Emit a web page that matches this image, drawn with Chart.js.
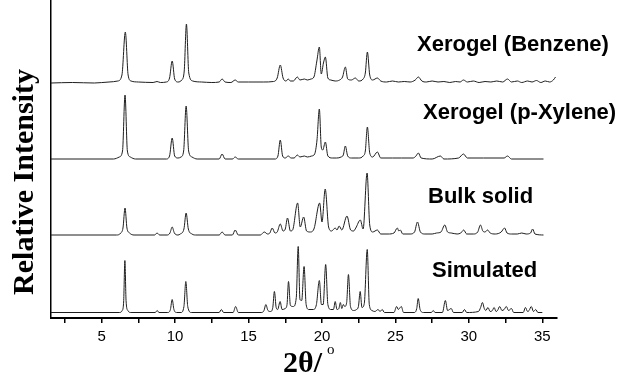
<!DOCTYPE html>
<html>
<head>
<meta charset="utf-8">
<script src="https://cdn.jsdelivr.net/npm/chart.js@4.4.1/dist/chart.umd.min.js"></script>
<style>
  html, body { margin: 0; padding: 0; background: #fff; }
  #xrd { display: block; }
</style>
</head>
<body>
<canvas id="xrd" width="622" height="377"></canvas>
<script>
// [2theta, intensity above the trace's own baseline]
const simulated = [
  [1.55,0],[6.2,0],[6.4,2],[6.5,12],[6.58,52],[6.66,12],[6.78,2],[7.0,0],
  [8.65,0],[8.78,2],[8.9,0],
  [9.5,0],[9.68,3],[9.8,13],[9.92,3],[10.1,0],
  [10.4,0],[10.6,6],[10.73,31],[10.86,6],[11.1,0],
  [13.0,0],[13.15,3],[13.3,0],
  [13.95,0],[14.12,6],[14.3,0],
  [15.9,0],[16.05,2],[16.18,8],[16.32,2],[16.5,1],[16.65,5],[16.76,21],[16.88,5],[16.98,3],
  [17.15,11],[17.28,3],[17.5,4],[17.62,8],[17.72,31],[17.85,7],[18.05,6],[18.25,15],[18.38,66],
  [18.5,13],[18.62,12],[18.78,46],[18.92,8],[19.1,3],[19.4,3],[19.62,8],[19.82,32],[19.96,8],
  [20.08,8],[20.25,48],[20.4,8],[20.6,3],[20.78,3],[20.9,11],[21.02,3],[21.15,4],[21.25,10],
  [21.35,4],[21.45,8],[21.55,6],[21.68,10],[21.8,38],[21.94,6],[22.15,2],[22.35,3],[22.48,6],
  [22.6,21],[22.72,5],[22.88,9],[23.08,63],[23.22,8],[23.4,2],[23.6,1],[23.82,3],[23.95,1],
  [24.1,3],[24.25,0],
  [24.9,0],[25.08,6],[25.2,3],[25.27,4],[25.4,6],[25.55,0],
  [26.3,0],[26.45,4],[26.55,14],[26.68,3],[26.9,0],
  [27.45,0],[27.57,2],[27.7,0],
  [28.2,0],[28.4,12],[28.55,2],[28.8,4],[28.95,0],
  [29.55,0],[29.7,3],[29.85,0],
  [30.65,1],[30.8,5],[30.92,10],[31.05,4],[31.15,2],[31.3,5],[31.45,1],[31.6,2],[31.72,5],
  [31.85,1],[31.95,2],[32.1,6],[32.25,2],[32.4,3],[32.55,6],[32.7,2],[32.9,4],[33.05,0],
  [33.7,0],[33.85,5],[34.0,1],[34.1,2],[34.25,6],[34.4,1],[34.55,3],[34.7,0],[35.0,0]
];

const bulkSolid = [
  [1.55,0],[6.0,0],[6.3,2],[6.45,7],[6.59,27],[6.72,7],[6.9,2],[7.2,0],
  [8.6,0],[8.77,2],[8.95,0],
  [9.45,0],[9.65,2],[9.8,8],[9.95,2],[10.2,0],
  [10.35,1],[10.6,6],[10.75,22],[10.9,6],[11.15,1],[11.4,0],
  [13.0,0],[13.2,3],[13.4,0],
  [13.9,0],[14.09,5],[14.3,0],
  [15.8,0],[16.07,3],[16.3,1],[16.45,2],[16.61,7],[16.8,2],[16.95,3],[17.16,11],[17.35,4],
  [17.5,6],[17.65,17],[17.85,4],[18.0,5],[18.34,32],[18.52,8],[18.75,18],[18.95,4],[19.2,3],
  [19.45,6],[19.84,32],[20.0,13],[20.22,46],[20.45,8],[20.65,4],[20.9,7],[21.02,5],[21.17,9],
  [21.35,5],[21.7,19],[21.95,5],[22.15,4],[22.3,7],[22.61,15],[22.8,6],[23.07,62],[23.25,10],
  [23.45,3],[23.77,5],[24.0,1],[24.5,1],[24.9,2],[25.13,7],[25.23,4],[25.33,5],[25.5,1],
  [26.0,1],[26.3,3],[26.5,13],[26.7,3],[27.0,1],[27.5,1],[27.8,2],[28.1,3],[28.36,10],
  [28.55,3],[28.8,2],[29.2,1],[29.45,2],[29.65,5],[29.85,1],[30.3,1],[30.6,3],[30.79,10],
  [30.95,4],[31.1,3],[31.27,5],[31.45,2],[31.8,1],[32.2,3],[32.43,7],[32.6,2],[32.9,1],
  [33.3,1],[33.6,2],[33.9,1],[34.2,2],[34.34,6],[34.5,1],[35.08,0]
];

const xerogelXylene = [
  [1.55,0],[5.8,0],[6.2,2],[6.42,8],[6.59,64],[6.75,8],[6.95,2],[7.3,0],
  [9.4,0],[9.62,3],[9.8,21],[9.97,3],[10.2,1],[10.4,2],[10.58,8],[10.75,53],[10.92,8],
  [11.15,2],[11.5,0],
  [13.0,0],[13.2,5],[13.4,0],[13.9,0],[14.09,2],[14.3,0],
  [16.8,0],[17.0,3],[17.16,19],[17.32,3],[17.5,1],[17.7,3],[17.9,1],[18.1,1],[18.32,4],
  [18.5,2],[18.8,3],[19.0,2],[19.3,3],[19.5,5],[19.66,19],[19.82,50],[19.95,12],[20.05,9],
  [20.23,17],[20.4,3],[20.7,1],[21.0,1],[21.3,2],[21.45,4],[21.59,13],[21.75,3],[22.0,1],
  [22.5,1],[22.8,3],[22.95,8],[23.09,32],[23.25,6],[23.45,2],[23.77,7],[24.0,1],[24.8,1],
  [25.4,1],[26.2,1],[26.4,3],[26.56,6],[26.75,1],[27.5,0],[28.06,3],[28.3,0],[29.3,1],
  [29.63,5],[29.9,1],[31.0,1],[32.4,1],[32.63,3],[32.9,0],[35.08,0]
];

const xerogelBenzene = [
  [1.55,0],[3.0,0.5],[4.5,0],[5.5,1],[6.1,2],[6.38,8],[6.61,51],[6.8,8],[7.0,2],[7.5,1],
  [8.5,0.5],[8.77,1.5],[9.0,0.5],[9.4,1],[9.62,5],[9.8,22],[9.97,4],[10.2,1],[10.45,3],
  [10.62,12],[10.77,59],[10.93,10],[11.2,2],[11.8,1],[12.5,0.5],[13.0,1],[13.2,4],[13.4,1],
  [13.8,0.5],[14.09,3],[14.3,1],[15.0,1],[16.0,1],[16.7,1.5],[16.95,5],[17.16,18],[17.35,5],
  [17.55,2],[17.7,4],[17.85,2],[18.05,2],[18.32,6],[18.5,3],[18.8,4],[19.0,3],[19.25,4],
  [19.45,6],[19.65,22],[19.82,36],[19.95,9],[20.1,20],[20.23,26],[20.4,5],[20.6,3],[20.9,2],
  [21.2,3],[21.4,6],[21.59,16],[21.75,4],[22.0,3],[22.27,5],[22.5,2],[22.8,4],[22.95,10],
  [23.09,31],[23.25,8],[23.45,3],[23.77,5],[24.0,2],[24.4,1],[24.8,2],[25.2,1],[25.6,1.5],
  [26.0,1],[26.35,3],[26.56,6],[26.8,2],[27.1,1],[27.5,2],[27.9,1],[28.3,1.5],[28.7,0.5],
  [29.1,1.5],[29.4,1],[29.63,3],[29.9,1],[30.3,2],[30.7,0.5],[31.1,1.5],[31.5,1],[31.9,2],
  [32.3,1],[32.63,4],[32.9,1],[33.3,2],[33.6,0.5],[34.0,2],[34.3,1],[34.6,2.5],[34.9,0.5],
  [35.2,2],[35.5,1],[35.75,3],[35.9,6]
];

const traces = [simulated, bulkSolid, xerogelXylene, xerogelBenzene];
const traceLabels = ['Simulated', 'Bulk solid', 'Xerogel (p-Xylene)', 'Xerogel (Benzene)'];
const traceOffsets = [5.5, 83, 159, 235];
const xTickLabels = [5, 10, 15, 20, 25, 30, 35];

// where each trace name sits (canvas px: left, baseline)
const labelPos = [[432, 277], [428, 203], [423, 119], [417, 51]];

const textPlugin = {
  id: 'xrdText',
  afterDraw(chart) {
    const c = chart.ctx;
    c.save();
    c.fillStyle = '#000';
    c.textAlign = 'left';
    c.textBaseline = 'alphabetic';
    c.font = 'bold 22px "Liberation Sans", Arial, sans-serif';
    traceLabels.forEach((t, i) => c.fillText(t, labelPos[i][0], labelPos[i][1]));

    // axis titles
    c.font = 'bold 30px "Liberation Serif", "Times New Roman", serif';
    c.fillText('2θ/', 283, 372);
    c.font = '15px "Liberation Serif", "Times New Roman", serif';
    c.fillText('o', 327, 354);

    c.translate(33, 182);
    c.rotate(-Math.PI / 2);
    c.textAlign = 'center';
    c.font = 'bold 30px "Liberation Serif", "Times New Roman", serif';
    c.fillText('Relative Intensity', 0, 0);
    c.restore();
  }
};

const ctx = document.getElementById('xrd').getContext('2d');
const chart = new Chart(ctx, {
  type: 'line',
  data: {
    datasets: traces.map((tr, i) => ({
      label: traceLabels[i],
      data: tr.map(p => ({ x: p[0], y: p[1] + traceOffsets[i] })),
      borderColor: '#1e1e1e',
      borderWidth: 1,
      pointRadius: 0,
      fill: false,
      cubicInterpolationMode: 'monotone'
    }))
  },
  options: {
    responsive: false,
    animation: false,
    devicePixelRatio: 1,
    layout: { padding: { left: 0, right: 65, top: 0, bottom: 0 } },
    plugins: { legend: { display: false }, tooltip: { enabled: false } },
    scales: {
      x: {
        type: 'linear',
        min: 1.55,
        max: 36,
        afterFit: s => { s.height = 59; },
        border: { display: true, color: '#000', width: 2 },
        grid: { display: true, drawOnChartArea: false, drawTicks: true, tickLength: 5, color: '#000', lineWidth: 1.5 },
        ticks: {
          stepSize: 2.5,
          includeBounds: false,
          autoSkip: false,
          maxRotation: 0,
          padding: 5,
          color: '#000',
          font: { family: '"Liberation Sans", Arial, sans-serif', size: 15 },
          callback: v => xTickLabels.includes(v) ? String(v) : ''
        }
      },
      y: {
        type: 'linear',
        min: 0,
        max: 318,
        afterFit: s => { s.width = 51; },
        border: { display: true, color: '#000', width: 1.5 },
        grid: { display: false },
        ticks: { display: false }
      }
    }
  },
  plugins: [textPlugin]
});
</script>
</body>
</html>
